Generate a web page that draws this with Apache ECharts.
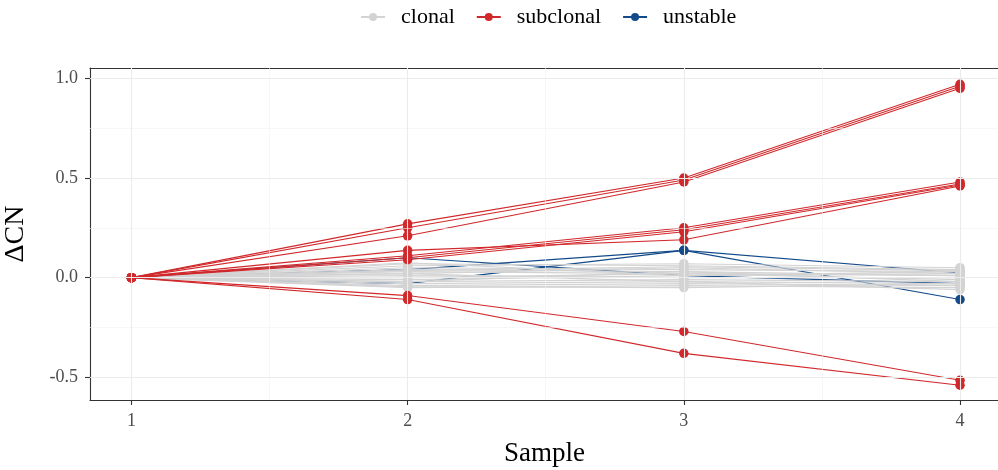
<!DOCTYPE html>
<html>
<head>
<meta charset="utf-8">
<script src="https://cdn.jsdelivr.net/npm/echarts@6/dist/echarts.min.js"></script>
<style>
  html, body { margin: 0; padding: 0; background: #fff; }
  #chart { width: 998px; height: 470px; }
</style>
</head>
<body>
<div id="chart"></div>
<script>
// Samples along the x axis
const samples = [1, 2, 3, 4];
const xTicks = [1, 2, 3, 4];
const yTicks = [-0.5, 0, 0.5, 1.0];
const yMinor = [-0.25, 0.25, 0.75];
const xMinor = [1.5, 2.5, 3.5];

// Change in copy number per segment, one row per segment (samples 1..4)
const clonal = [
  [0, 0.070, 0.060, 0.040],
  [0, 0.050, 0.040, 0.030],
  [0, 0.030, 0.020, 0.010],
  [0, 0.020, 0.050, 0.020],
  [0, 0.010, 0.000, 0.000],
  [0, 0.000, 0.020, -0.010],
  [0, -0.010, 0.010, 0.030],
  [0, -0.020, -0.010, -0.020],
  [0, -0.030, -0.020, -0.030],
  [0, -0.040, -0.030, -0.040],
  [0, -0.050, -0.040, -0.050],
  [0, 0.040, 0.030, -0.020],
  [0, 0.060, 0.070, 0.050],
  [0, -0.020, 0.030, 0.010],
  [0, 0.020, -0.020, -0.060],
  [0, 0.075, 0.010, 0.020],
  [0, -0.045, -0.050, -0.030],
  [0, 0.035, 0.055, 0.035]
];
const subclonal = [
  [0, 0.270, 0.500, 0.970],
  [0, 0.250, 0.490, 0.960],
  [0, 0.210, 0.480, 0.950],
  [0, 0.137, 0.190, 0.460],
  [0, 0.110, 0.250, 0.480],
  [0, 0.100, 0.240, 0.470],
  [0, 0.090, 0.230, 0.465],
  [0, -0.090, -0.270, -0.515],
  [0, -0.110, -0.380, -0.540]
];
const unstable = [
  [0, -0.030, 0.137, -0.110],
  [0, 0.040, 0.137, 0.023],
  [0, 0.100, 0.010, -0.030]
];

const groupColors = { clonal: '#d3d3d3', subclonal: '#d1282b', unstable: '#134b8a' };
const FONT = 'Liberation Serif';
const AXIS_COLOR = '#333333';
const X_MIN = 0.85, X_MAX = 4.1411;

function lineSeries(name, rows, z) {
  return rows.map(row => ({
    name: name,
    type: 'line',
    z: z,
    data: samples.map((s, i) => [s, row[i]]),
    symbol: 'circle',
    symbolSize: 9.5,
    showSymbol: true,
    lineStyle: { width: 1.1, color: groupColors[name] },
    itemStyle: { color: groupColors[name] },
    emphasis: { disabled: true },
    animation: false
  }));
}

// Background grid lines (major and minor) drawn through the axis scales
const gridSeries = {
  name: 'grid',
  type: 'line',
  z: 0,
  data: [],
  silent: true,
  animation: false,
  markLine: {
    silent: true,
    symbol: 'none',
    label: { show: false },
    animation: false,
    data: [
      ...yMinor.map(v => ({ yAxis: v, lineStyle: { color: '#f2f2f2', width: 0.6, type: 'solid' } })),
      ...xMinor.map(v => ({ xAxis: v, lineStyle: { color: '#f2f2f2', width: 0.6, type: 'solid' } })),
      ...yTicks.map(v => ({ yAxis: v, lineStyle: { color: '#ebebeb', width: 1.1, type: 'solid' } })),
      ...xTicks.map(v => ({ xAxis: v, lineStyle: { color: '#ebebeb', width: 1.1, type: 'solid' } }))
    ]
  }
};

const chart = echarts.init(document.getElementById('chart'), null, { renderer: 'canvas' });
chart.setOption({
  backgroundColor: '#fff',
  animation: false,
  textStyle: { fontFamily: FONT },
  legend: {
    data: ['clonal', 'subclonal', 'unstable'],
    top: 1,
    left: 355,
    itemWidth: 24,
    itemHeight: 10,
    itemGap: 21,
    textStyle: { fontFamily: FONT, fontSize: 22, color: '#000', padding: [0, 0, 0, 11] }
  },
  grid: {
    left: 90, top: 68, width: 909, height: 332,
    show: false,
    containLabel: false,
    outerBoundsMode: 'none'
  },
  xAxis: [{
    type: 'value',
    min: X_MIN, max: X_MAX,
    name: 'Sample',
    nameLocation: 'middle',
    nameGap: 40,
    nameTextStyle: { fontFamily: FONT, fontSize: 27, color: '#000' },
    axisLine: { show: true, onZero: false, lineStyle: { color: AXIS_COLOR, width: 1.1 } },
    axisTick: { show: true, customValues: xTicks, length: 5, lineStyle: { color: AXIS_COLOR, width: 1.1 } },
    axisLabel: { customValues: xTicks, fontFamily: FONT, fontSize: 18, color: '#4d4d4d', margin: 12 },
    splitLine: { show: false }
  }, {
    // top edge of the panel
    type: 'value',
    position: 'top',
    min: X_MIN, max: X_MAX,
    axisLine: { show: true, onZero: false, lineStyle: { color: AXIS_COLOR, width: 1.1 } },
    axisTick: { show: false },
    axisLabel: { show: false },
    splitLine: { show: false }
  }],
  yAxis: {
    type: 'value',
    min: -0.614, max: 1.052,
    name: 'ΔCN',
    nameLocation: 'middle',
    nameGap: 60,
    nameRotate: 90,
    nameTextStyle: { fontFamily: FONT, fontSize: 28, color: '#000' },
    axisLine: { show: true, onZero: false, lineStyle: { color: AXIS_COLOR, width: 1.1 } },
    axisTick: { show: true, customValues: yTicks, length: 5, lineStyle: { color: AXIS_COLOR, width: 1.1 } },
    axisLabel: {
      customValues: yTicks, fontFamily: FONT, fontSize: 18, color: '#4d4d4d', margin: 12,
      formatter: v => v.toFixed(1)
    },
    splitLine: { show: false }
  },
  series: [
    gridSeries,
    ...lineSeries('unstable', unstable, 2),
    ...lineSeries('clonal', clonal, 3),
    ...lineSeries('subclonal', subclonal, 4)
  ]
});
</script>
</body>
</html>
